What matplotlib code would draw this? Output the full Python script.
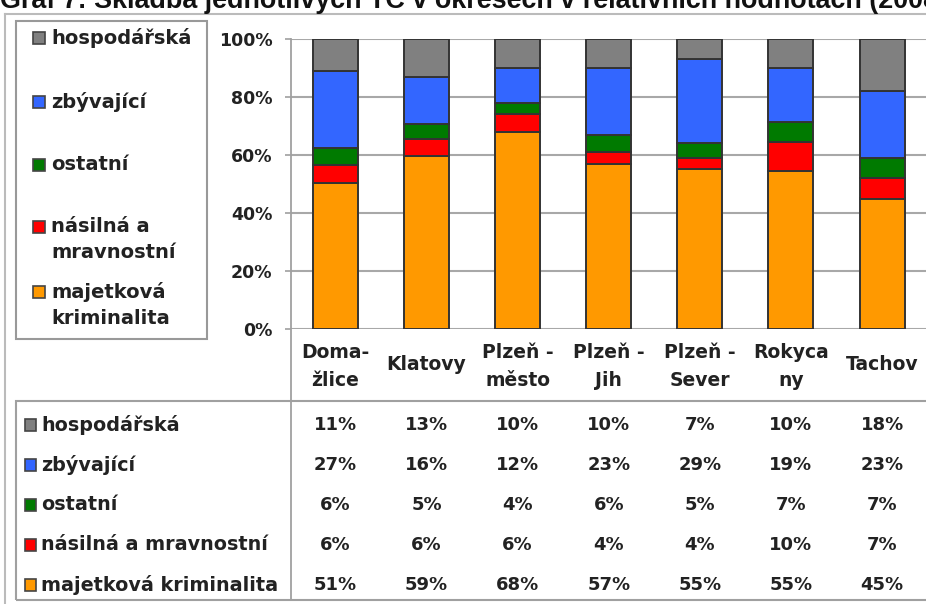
import matplotlib
matplotlib.use('Agg')
import matplotlib.pyplot as plt
import matplotlib.transforms as mtransforms
from matplotlib.patches import Rectangle
from matplotlib.lines import Line2D
import numpy as np

W, H = 926, 604

# ---------------- data ----------------
districts = ['Doma-\nžlice', 'Klatovy', 'Plzeň -\nměsto', 'Plzeň -\nJih',
             'Plzeň -\nSever', 'Rokyca\nny', 'Tachov']
hospodarska = [11, 13, 10, 10, 7, 10, 18]
zbyvajici = [27, 16, 12, 23, 29, 19, 23]
ostatni = [6, 5, 4, 6, 5, 7, 7]
nasilna = [6, 6, 6, 4, 4, 10, 7]
majetkova = [51, 59, 68, 57, 55, 55, 45]
legend_labels = ['hospodářská', 'zbývající', 'ostatní',
                 'násilná a\nmravnostní', 'majetková\nkriminalita']
table_labels = ['hospodářská', 'zbývající', 'ostatní',
                'násilná a mravnostní', 'majetková kriminalita']
yticks = [0, 20, 40, 60, 80, 100]
ytick_labels = ['0%', '20%', '40%', '60%', '80%', '100%']
title = 'Graf 7: Skladba jednotlivých TČ v okresech v relativních hodnotách (2008)'

# series top-to-bottom (as in legend/table)
series = [hospodarska, zbyvajici, ostatni, nasilna, majetkova]
colors = ['#808080', '#3366FF', '#007A00', '#FF0000', '#FF9900']

FONT = 'DejaVu Sans'
TXT = '#222222'

fig = plt.figure(figsize=(W / 100, H / 100), dpi=100)
fig.patch.set_facecolor('white')


def fx(x):
    return x / W


def fy(y):
    return 1 - y / H


# axes: left 291px, right 926px, top 39px (100%), bottom 329px (0%)
ax = fig.add_axes([fx(291), fy(329), fx(926 - 291), (329 - 39) / H])
ax.set_xlim(-0.488, 6.482)
ax.set_ylim(0, 100)

vals = np.array(series, dtype=float)
totals = vals.sum(axis=0)
pct = vals / totals * 100
x = np.arange(len(districts))
bottom = np.zeros(len(districts))
for i in range(len(series) - 1, -1, -1):
    ax.bar(x, pct[i], bottom=bottom, width=0.494, color=colors[i],
           edgecolor='#333333', linewidth=1.4, zorder=3)
    bottom += pct[i]

for s in ax.spines.values():
    s.set_visible(False)
ax.set_yticks(yticks)
ax.set_yticklabels(ytick_labels, fontsize=12.5, fontweight='bold', family=FONT, color=TXT)
ax.tick_params(axis='y', length=4.5, width=1.2, color='#A0A0A0', pad=9)
ax.set_xticks([])
ax.yaxis.grid(True, color='#A8A8A8', linewidth=1.5, zorder=0)
ax.set_axisbelow(True)

# vertical axis / divider line
fig.add_artist(Line2D([fx(291), fx(291)], [fy(39), fy(600)], color='#A0A0A0', lw=1.3,
                      transform=fig.transFigure))

# category labels
bt = mtransforms.blended_transform_factory(ax.transData, fig.transFigure)
for i, lab in enumerate(districts):
    lines = lab.split('\n')
    if len(lines) == 1:
        ys = [365]
    else:
        ys = [352, 380]
    for ln, yy in zip(lines, ys):
        ax.text(i, fy(yy), ln, transform=bt, ha='center', va='center',
                fontsize=13.5, fontweight='bold', family=FONT, color=TXT, clip_on=False)

# outer frame
fig.add_artist(Line2D([fx(5), fx(5)], [fy(14), fy(604)], color='#BBBBBB', lw=1.5,
                      transform=fig.transFigure))
fig.add_artist(Line2D([fx(5), fx(926)], [fy(14), fy(14)], color='#BBBBBB', lw=1.5,
                      transform=fig.transFigure))

# legend box
fig.add_artist(Rectangle((fx(16), fy(339)), fx(207 - 16), (339 - 21) / H, fill=False,
                         edgecolor='#999999', lw=1.5, transform=fig.transFigure))
leg_y = [[38], [102], [165], [227, 253], [292, 318]]
for i, lab in enumerate(legend_labels):
    ys = leg_y[i]
    fig.add_artist(Rectangle((fx(33), fy(ys[0] + 6)), fx(12), 12 / H, facecolor=colors[i],
                             edgecolor='#444444', lw=1.2, transform=fig.transFigure))
    for ln, yy in zip(lab.split('\n'), ys):
        fig.text(fx(51), fy(yy), ln, ha='left', va='center', fontsize=14,
                 fontweight='bold', family=FONT, color=TXT)

# data table
fig.add_artist(Rectangle((fx(16), fy(600)), fx(926 - 16 + 10), (600 - 401) / H, fill=False,
                         edgecolor='#A0A0A0', lw=1.5, transform=fig.transFigure))
row_y = [425, 465, 505, 545, 585]
for r, (lab, vals_r) in enumerate(zip(table_labels, series)):
    yy = row_y[r]
    fig.add_artist(Rectangle((fx(25), fy(yy + 6)), fx(11), 12 / H, facecolor=colors[r],
                             edgecolor='#444444', lw=1.2, transform=fig.transFigure))
    fig.text(fx(41), fy(yy), lab, ha='left', va='center', fontsize=13.8,
             fontweight='bold', family=FONT, color=TXT)
    for c, v in enumerate(vals_r):
        ax.text(c, fy(yy), f'{v}%', transform=bt, ha='center', va='center',
                fontsize=13, fontweight='bold', family=FONT, color=TXT, clip_on=False)

# title (partially cut off at top, as in the reference)
fig.text(fx(0), fy(8), title, ha='left', va='baseline', fontsize=19.4,
         fontweight='bold', family='Liberation Sans', color='#111111')

fig.savefig('out.png', dpi=100)
